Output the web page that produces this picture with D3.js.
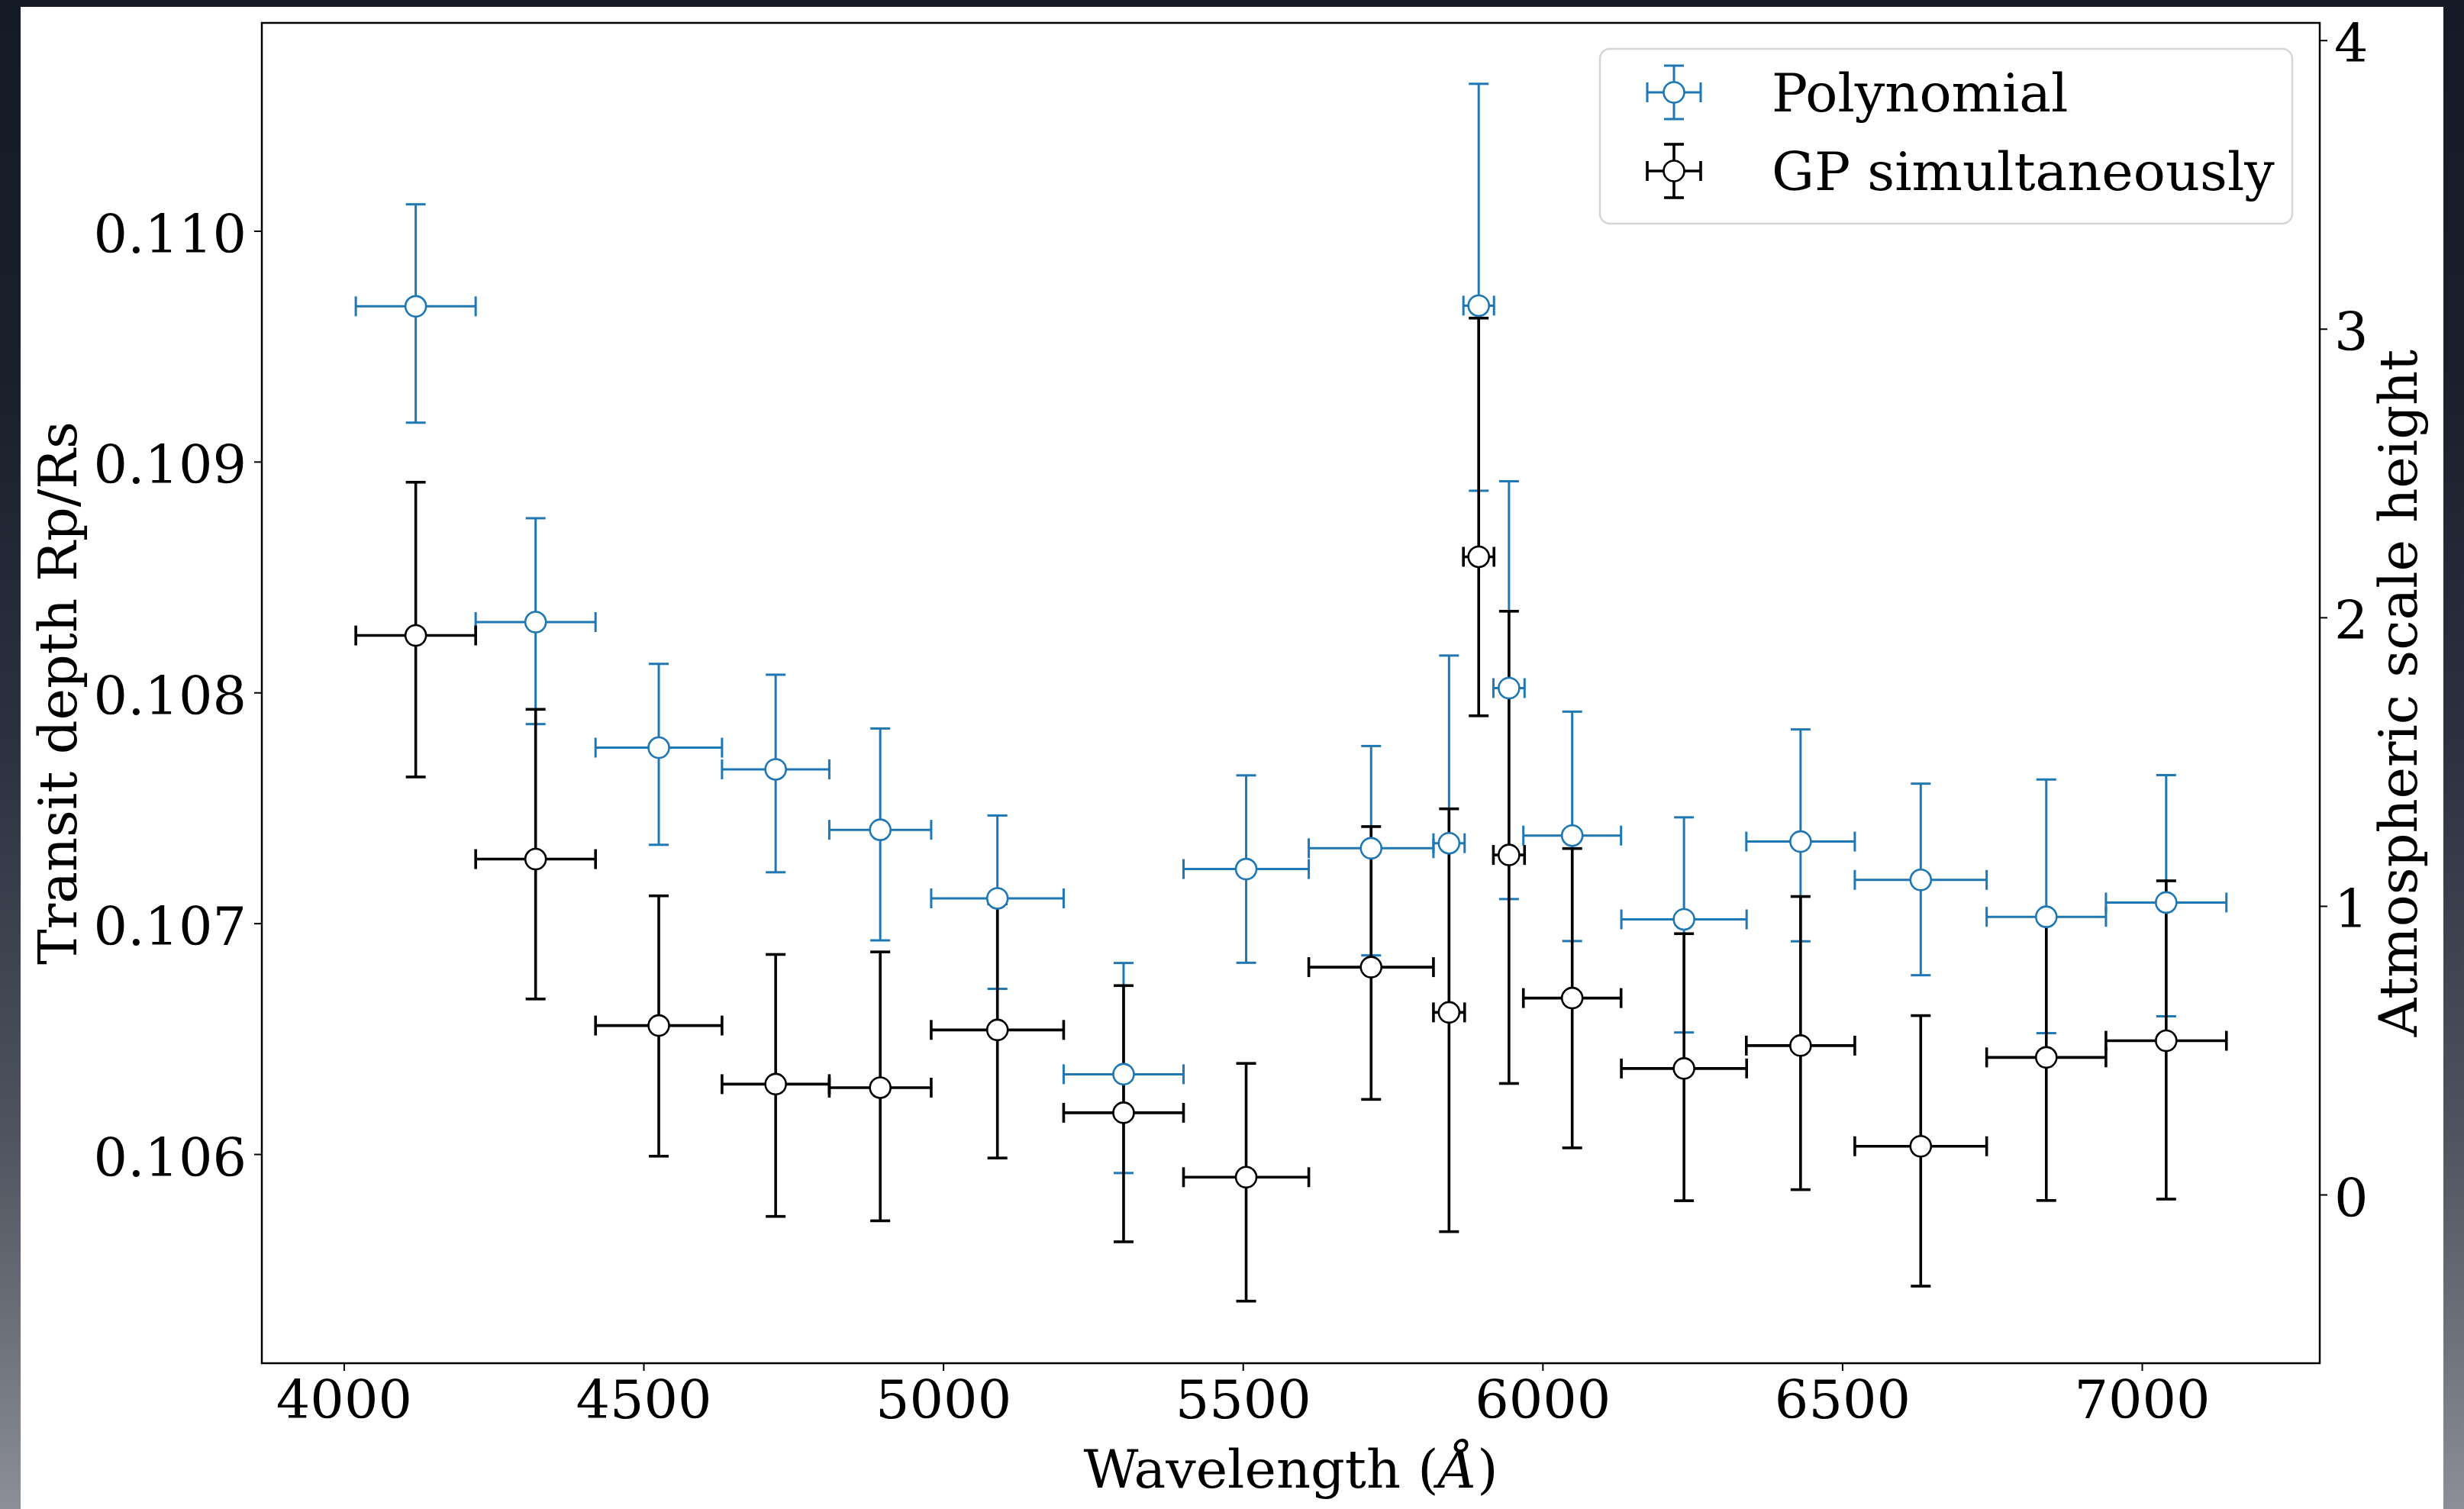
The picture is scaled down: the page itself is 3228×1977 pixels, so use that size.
<!DOCTYPE html>
<html>
<head>
<meta charset="utf-8">
<script src="https://cdn.jsdelivr.net/npm/d3@7"></script>
<style>
  html, body { margin: 0; padding: 0; background: #151a26; }
  svg { display: block; }
  text { font-family: "DejaVu Serif", serif; }
</style>
</head>
<body>
<script>
// ---------------- DATA ----------------
const seriesNames = ["Polynomial", "GP simultaneously"];
const seriesColors = ["#1f77b4", "#000000"];

// bin centres (Angstrom) and half-widths of the spectral bins
const wavelength = [4120, 4320, 4525.5, 4720.5, 4895, 5090.5, 5301, 5505.5, 5714, 5844, 5893.5, 5944, 6049.5, 6236, 6430.5, 6631, 6840.5, 7040.5];
const binHalfWidth = [100, 100, 105.5, 89.5, 85, 110.5, 100, 104.5, 104, 26, 25.5, 26, 81.5, 104.5, 90.5, 110, 99.5, 100.5];

// Polynomial detrending: Rp/Rs and lower/upper errors
const polyDepth   = [0.109673, 0.108305, 0.107761, 0.107667, 0.107405, 0.107108, 0.106346, 0.107235, 0.107325, 0.107347, 0.109676, 0.108019, 0.107380, 0.107017, 0.107354, 0.107188, 0.107028, 0.107090];
const polyErrLow  = [0.000504, 0.000442, 0.000421, 0.000446, 0.000479, 0.000392, 0.000428, 0.000406, 0.000464, 0.000711, 0.000802, 0.000914, 0.000457, 0.000490, 0.000432, 0.000413, 0.000504, 0.000493];
const polyErrHigh = [0.000442, 0.000450, 0.000363, 0.000410, 0.000439, 0.000359, 0.000482, 0.000406, 0.000443, 0.000813, 0.000961, 0.000896, 0.000537, 0.000442, 0.000486, 0.000417, 0.000595, 0.000552];

// GP fitted simultaneously: Rp/Rs and lower/upper errors
const gpDepth   = [0.108247, 0.107278, 0.106557, 0.106303, 0.106288, 0.106538, 0.106179, 0.105900, 0.106810, 0.106614, 0.108588, 0.107296, 0.106676, 0.106371, 0.106470, 0.106034, 0.106419, 0.106491];
const gpErrLow  = [0.000613, 0.000606, 0.000566, 0.000573, 0.000577, 0.000555, 0.000559, 0.000537, 0.000573, 0.000950, 0.000689, 0.000990, 0.000649, 0.000573, 0.000624, 0.000606, 0.000620, 0.000686];
const gpErrHigh = [0.000664, 0.000649, 0.000562, 0.000562, 0.000588, 0.000546, 0.000551, 0.000493, 0.000609, 0.000882, 0.001034, 0.001056, 0.000648, 0.000584, 0.000646, 0.000566, 0.000620, 0.000693];

// ticks
const xTicks = [4000, 4500, 5000, 5500, 6000, 6500, 7000];
const yLeftTicks = [0.106, 0.107, 0.108, 0.109, 0.110];
const yRightTicks = [0, 1, 2, 3, 4];

const xLabel = "Wavelength (";
const xLabelUnit = "Å";
const yLeftLabel = "Transit depth Rp/Rs";
const yRightLabel = "Atmospheric scale height";

// ---------------- LAYOUT ----------------
const W = 3228, H = 1977;
const plot = { left: 343, right: 3039, top: 30, bottom: 1786 };
const FS = 70;

const svg = d3.select("body").append("svg").attr("width", W).attr("height", H);

const defs = svg.append("defs");
const grad = defs.append("linearGradient").attr("id", "bg").attr("x1", 0).attr("y1", 0).attr("x2", 0).attr("y2", 1);
[[0, "#141a26"], [0.25, "#1a1f2c"], [0.5, "#2c3240"], [0.75, "#4e535f"], [0.88, "#6b7079"], [1, "#8c8f98"]]
  .forEach(([o, c]) => grad.append("stop").attr("offset", o).attr("stop-color", c));
svg.append("rect").attr("width", W).attr("height", H).attr("fill", "url(#bg)");
svg.append("rect").attr("x", 27).attr("y", 9).attr("width", 3174).attr("height", H - 9).attr("fill", "#ffffff");

const x = d3.scaleLinear().domain([3863.2, 7296.7]).range([plot.left, plot.right]);
const yL = d3.scaleLinear().domain([0.105094, 0.110901]).range([plot.bottom, plot.top]);
const yR = d3.scaleLinear().domain([-0.5845, 4.060]).range([plot.bottom, plot.top]);

// ---------------- AXES ----------------
function styleAxis(g) {
  g.select(".domain").remove();
  g.selectAll(".tick line").attr("stroke", "#000").attr("stroke-width", 2);
  g.selectAll(".tick text").attr("fill", "#000").style("font-size", FS + "px").style("font-family", "'DejaVu Serif', serif");
}

svg.append("g").attr("transform", `translate(0,${plot.bottom})`)
  .call(d3.axisBottom(x).tickValues(xTicks).tickFormat(d3.format("d")).tickSize(10).tickPadding(12))
  .call(styleAxis);

svg.append("g").attr("transform", `translate(${plot.left},0)`)
  .call(d3.axisLeft(yL).tickValues(yLeftTicks).tickFormat(d3.format(".3f")).tickSize(10).tickPadding(10))
  .call(styleAxis)
  .selectAll(".tick text").attr("dy", "0.4em");

svg.append("g").attr("transform", `translate(${plot.right},0)`)
  .call(d3.axisRight(yR).tickValues(yRightTicks).tickFormat(d3.format("d")).tickSize(10).tickPadding(9))
  .call(styleAxis)
  .selectAll(".tick text").attr("dy", "0.4em");

// axis labels
const xl = svg.append("text").attr("x", (plot.left + plot.right) / 2).attr("y", 1949)
  .attr("text-anchor", "middle").style("font-size", FS + "px").attr("fill", "#000");
xl.append("tspan").text(xLabel);
xl.append("tspan").style("font-style", "italic").text(xLabelUnit);
xl.append("tspan").text(")");

svg.append("text").attr("transform", `translate(100,${(plot.top + plot.bottom) / 2}) rotate(-90)`)
  .attr("text-anchor", "middle").style("font-size", FS + "px").attr("fill", "#000").text(yLeftLabel);

svg.append("text").attr("transform", `translate(3166,${(plot.top + plot.bottom) / 2}) rotate(-90)`)
  .attr("text-anchor", "middle").style("font-size", FS + "px").attr("fill", "#000").text(yRightLabel);

// ---------------- ERROR BARS ----------------
const CAP = 13, R = 13.5;
const lineWidths = [3, 3.6];
const series = [
  { name: seriesNames[0], color: seriesColors[0], lw: lineWidths[0], depth: polyDepth, lo: polyErrLow, hi: polyErrHigh },
  { name: seriesNames[1], color: seriesColors[1], lw: lineWidths[1], depth: gpDepth, lo: gpErrLow, hi: gpErrHigh }
];

const barsLayer = svg.append("g");
const markLayer = svg.append("g");

series.forEach(s => {
  const pts = wavelength.map((w, i) => ({ w, hw: binHalfWidth[i], v: s.depth[i], lo: s.lo[i], hi: s.hi[i] }));
  const g = barsLayer.append("g").attr("stroke", s.color).attr("stroke-width", s.lw).attr("fill", "none");
  pts.forEach(p => {
    const cx = x(p.w), cy = yL(p.v);
    const yTop = yL(p.v + p.hi), yBot = yL(p.v - p.lo);
    const xA = x(p.w - p.hw), xB = x(p.w + p.hw);
    g.append("line").attr("x1", cx).attr("x2", cx).attr("y1", yTop).attr("y2", yBot);
    g.append("line").attr("x1", cx - CAP).attr("x2", cx + CAP).attr("y1", yTop).attr("y2", yTop);
    g.append("line").attr("x1", cx - CAP).attr("x2", cx + CAP).attr("y1", yBot).attr("y2", yBot);
    g.append("line").attr("x1", xA).attr("x2", xB).attr("y1", cy).attr("y2", cy);
    g.append("line").attr("x1", xA).attr("x2", xA).attr("y1", cy - CAP).attr("y2", cy + CAP);
    g.append("line").attr("x1", xB).attr("x2", xB).attr("y1", cy - CAP).attr("y2", cy + CAP);
  });
  s.pts = pts;
});
series.forEach(s => {
  markLayer.append("g").selectAll("circle").data(s.pts).join("circle")
    .attr("cx", p => x(p.w)).attr("cy", p => yL(p.v)).attr("r", R)
    .attr("fill", "#fff").attr("stroke", s.color).attr("stroke-width", 2.6);
});

// frame
svg.append("rect").attr("x", plot.left).attr("y", plot.top)
  .attr("width", plot.right - plot.left).attr("height", plot.bottom - plot.top)
  .attr("fill", "none").attr("stroke", "#000").attr("stroke-width", 2.5);

// ---------------- LEGEND ----------------
const lg = svg.append("g");
lg.append("rect").attr("x", 2096).attr("y", 64).attr("width", 907).attr("height", 229).attr("rx", 13)
  .attr("fill", "#fff").attr("fill-opacity", 0.8).attr("stroke", "#d6d6d6").attr("stroke-width", 2.5);
series.forEach((s, i) => {
  const cx = 2193, cy = 121 + i * 103, L = 35;
  const g = lg.append("g").attr("stroke", s.color).attr("stroke-width", s.lw);
  g.append("line").attr("x1", cx).attr("x2", cx).attr("y1", cy - L).attr("y2", cy + L);
  g.append("line").attr("x1", cx - L).attr("x2", cx + L).attr("y1", cy).attr("y2", cy);
  g.append("line").attr("x1", cx - CAP).attr("x2", cx + CAP).attr("y1", cy - L).attr("y2", cy - L);
  g.append("line").attr("x1", cx - CAP).attr("x2", cx + CAP).attr("y1", cy + L).attr("y2", cy + L);
  g.append("line").attr("x1", cx - L).attr("x2", cx - L).attr("y1", cy - CAP).attr("y2", cy + CAP);
  g.append("line").attr("x1", cx + L).attr("x2", cx + L).attr("y1", cy - CAP).attr("y2", cy + CAP);
  lg.append("circle").attr("cx", cx).attr("cy", cy).attr("r", R).attr("fill", "#fff")
    .attr("stroke", s.color).attr("stroke-width", 2.6);
  lg.append("text").attr("x", 2321).attr("y", cy + 25).style("font-size", FS + "px").attr("fill", "#000").text(s.name);
});
</script>
</body>
</html>
